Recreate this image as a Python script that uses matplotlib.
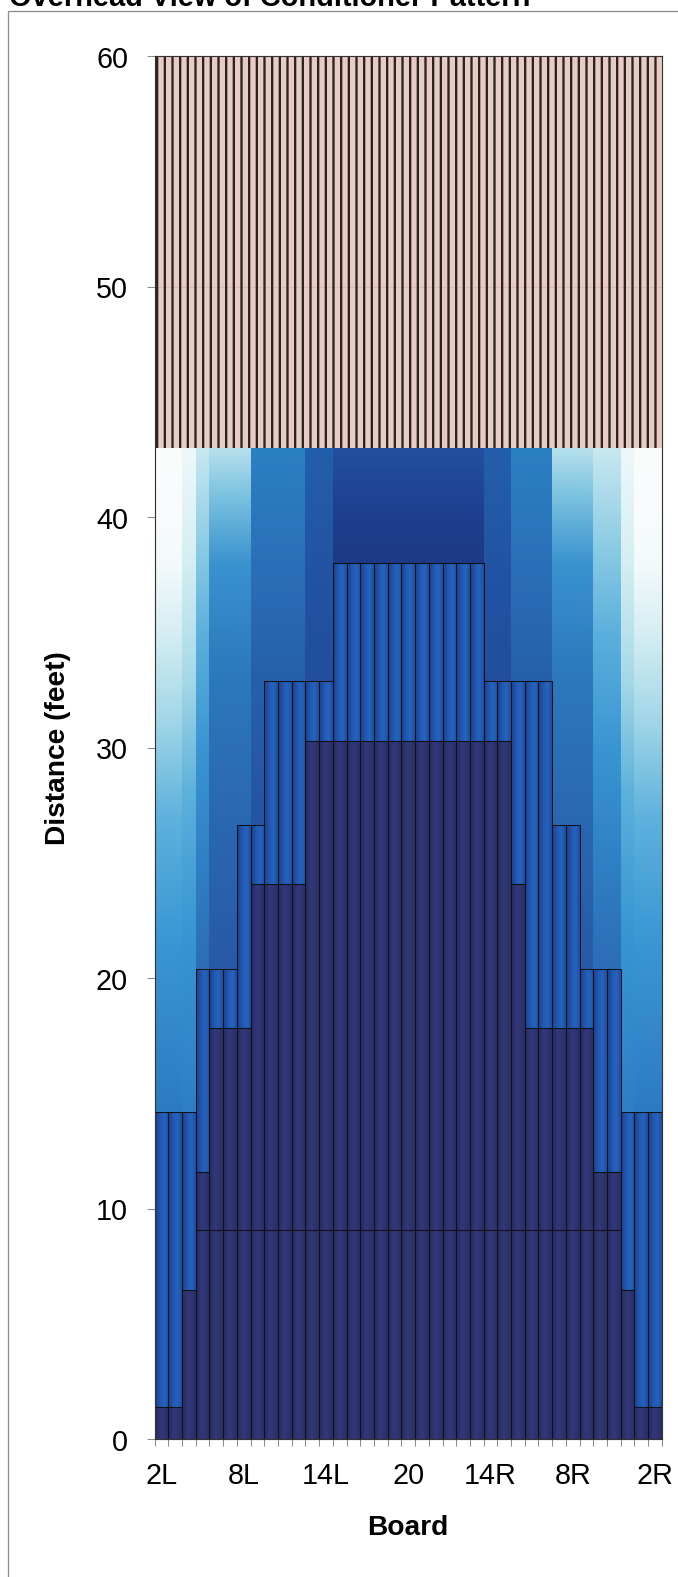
import numpy as np
import matplotlib
matplotlib.use("Agg")
import matplotlib.pyplot as plt
from matplotlib.colors import to_rgb
from matplotlib.patches import Rectangle

# ---------------- data ----------------
boards = ["2L", "3L", "4L", "5L", "6L", "7L", "8L", "9L", "10L", "11L", "12L", "13L",
          "14L", "15L", "16L", "17L", "18L", "19L", "20", "19R", "18R", "17R", "16R",
          "15R", "14R", "13R", "12R", "11R", "10R", "9R", "8R", "7R", "6R", "5R", "4R",
          "3R", "2R"]
tick_boards = ["2L", "8L", "14L", "20", "14R", "8R", "2R"]

# first (base) layer of conditioner, feet
base_layer = [1.4, 1.4, 6.5, 9.1, 9.1, 9.1, 9.1, 9.1, 9.1, 9.1, 9.1, 9.1, 9.1,
              9.1, 9.1, 9.1, 9.1, 9.1, 9.1, 9.1, 9.1, 9.1, 9.1, 9.1, 9.1, 9.1,
              9.1, 9.1, 9.1, 9.1, 9.1, 9.1, 9.1, 9.1, 6.5, 1.4, 1.4]
# top of the heavy (dark) conditioner zone, feet
heavy_top = [1.4, 1.4, 6.5, 11.6, 17.85, 17.85, 17.85, 24.1, 24.1, 24.1, 24.1,
             30.3, 30.3, 30.3, 30.3, 30.3, 30.3, 30.3, 30.3, 30.3, 30.3, 30.3,
             30.3, 30.3, 30.3, 30.3, 24.1, 17.85, 17.85, 17.85, 17.85, 17.85,
             11.6, 11.6, 6.5, 1.4, 1.4]
# top of the forward-pass zone (outlined blue), feet
forward_top = [14.2, 14.2, 14.2, 20.4, 20.4, 20.4, 26.65, 26.65, 32.9, 32.9, 32.9,
               32.9, 32.9, 38.0, 38.0, 38.0, 38.0, 38.0, 38.0, 38.0, 38.0, 38.0,
               38.0, 38.0, 32.9, 32.9, 32.9, 32.9, 32.9, 26.65, 26.65, 20.4, 20.4,
               20.4, 14.2, 14.2, 14.2]
# end of the buffed (tapered) zone, feet
buff_top = [43.0] * 37
lane_end = [60.0] * 37
# buff shading level per board (0 = lightest, 6 = heaviest)
buff_level = [0, 0, 1, 2, 3, 3, 3, 4, 4, 4, 4, 5, 5, 6, 6, 6, 6, 6, 6, 6, 6, 6,
              6, 6, 5, 5, 4, 4, 4, 3, 3, 3, 2, 2, 1, 0, 0]

# ---------------- styles ----------------
DPI = 92
plt.rcParams["font.family"] = ["Liberation Sans", "DejaVu Sans"]
plt.rcParams["hatch.linewidth"] = 1.8

dark_stops = [(0.0, "#252a60"), (0.45, "#333979"), (1.0, "#292e67")]
blue_stops = [(0.0, "#1b3f8c"), (0.35, "#2157b0"), (0.7, "#2563bf"), (1.0, "#1e4c9e")]
buff_stops = {
    0: [(14, "#2c7ac2"), (22, "#3d98d4"), (27, "#5fb2dd"), (31, "#9fd5e7"),
        (35, "#d5eef3"), (38, "#f4fafb"), (43, "#fbfdfd")],
    1: [(14, "#2d7ec4"), (22, "#3896d3"), (28, "#5cb0dc"), (33, "#a5d9e8"),
        (38, "#d4eef3"), (43, "#eef8fa")],
    2: [(20, "#2b6cb6"), (25, "#2f80c4"), (30, "#3a95d2"), (35, "#5cb0dc"),
        (39, "#8fcde5"), (43, "#c8e8f0")],
    3: [(20, "#2858a6"), (27, "#2a68b2"), (33, "#2c78bd"), (38, "#3a92cf"),
        (41, "#7cc3e0"), (43, "#b5e0ec")],
    4: [(24, "#244f9e"), (33, "#2660ab"), (38, "#2a70b8"), (43, "#2b80c2")],
    5: [(30, "#214a99"), (38, "#2254a3"), (43, "#245fab")],
    6: [(38, "#1c3985"), (40, "#1d3f8e"), (43, "#2350a0")],
}
pink_face = (229 / 255, 194 / 255, 184 / 255, 0.85)
stripe_col = "#2b2220"
edge_col = "#111111"


def interp_colors(stops, t):
    pos = np.array([s[0] for s in stops], float)
    rgb = np.array([to_rgb(s[1]) for s in stops])
    return np.stack([np.interp(t, pos, rgb[:, i]) for i in range(3)], axis=-1)


def horizontal_fill(ax, patches, stops, z):
    t = np.linspace(0, 1, 64)
    img = interp_colors(stops, t)[None, :, :]
    for p in patches:
        x0, y0, w, h = p.get_x(), p.get_y(), p.get_width(), p.get_height()
        if h <= 0:
            continue
        im = ax.imshow(img, extent=(x0, x0 + w, y0, y0 + h), origin="lower",
                       aspect="auto", interpolation="bilinear", zorder=z)
        im.set_clip_path(p)
        p.set_facecolor("none")


def vertical_fill(ax, patches, levels, z):
    for p, lev in zip(patches, levels):
        x0, y0, w, h = p.get_x(), p.get_y(), p.get_width(), p.get_height()
        if h <= 0:
            continue
        ys = np.linspace(y0, y0 + h, 240)
        img = interp_colors(buff_stops[lev], ys)[:, None, :]
        im = ax.imshow(img, extent=(x0, x0 + w, y0, y0 + h), origin="lower",
                       aspect="auto", interpolation="bilinear", zorder=z)
        im.set_clip_path(p)
        p.set_facecolor("none")


# ---------------- figure ----------------
fig = plt.figure(figsize=(678.4 / DPI, 1577.4 / DPI), dpi=DPI)
fig.patch.set_facecolor("white")

# outer chart frame and (cut-off at the top, as in the scan) title
fig.patches.append(Rectangle((8 / 678, -0.1), 2.0, 1.1 - 11 / 1577, transform=fig.transFigure,
                             fill=False, edgecolor="#8c8c8c", linewidth=1.0))
fig.text(9 / 678, 1 - 5.5 / 1577, "Overhead View of Conditioner Pattern",
         fontsize=22.7, fontweight="bold", ha="left", va="baseline", color="black")

ax = fig.add_axes([154.5 / 678, 1 - 1439.5 / 1577, 507 / 678, 1382.8 / 1577])
ax.set_facecolor("white")

x = np.arange(1, len(boards) + 1)
base = np.array(base_layer)
heavy = np.array(heavy_top)
fwd = np.array(forward_top)
buff = np.array(buff_top)
end = np.array(lane_end)

# base layer (dark)
b1 = ax.bar(x, base, width=1.0, bottom=0, edgecolor=edge_col, linewidth=0.8, zorder=3.5)
horizontal_fill(ax, b1.patches, dark_stops, 3)

# heavy layer above base (dark), only where present
mid_h = heavy - base
sel = mid_h > 0
b2 = ax.bar(x[sel], mid_h[sel], width=1.0, bottom=base[sel], edgecolor=edge_col,
            linewidth=0.8, zorder=3.5)
horizontal_fill(ax, b2.patches, dark_stops, 3)

# forward-pass zone (outlined blue)
b3 = ax.bar(x, fwd - heavy, width=1.0, bottom=heavy, edgecolor=edge_col,
            linewidth=0.8, zorder=3.5)
horizontal_fill(ax, b3.patches, blue_stops, 3)

# buffed taper zone (gradients, no outline)
b4 = ax.bar(x, buff - fwd, width=1.0, bottom=fwd, linewidth=0, zorder=2.5)
vertical_fill(ax, b4.patches, buff_level, 2)

# dry back end (pink, striped)
ax.bar(x, end - buff, width=1.0, bottom=buff, color=pink_face, edgecolor=stripe_col,
       linewidth=0, hatch="||", zorder=2)

# ---------------- axes ----------------
ax.set_xlim(0.5, len(boards) + 0.5)
ax.set_ylim(0, 60)
ax.set_yticks([0, 10, 20, 30, 40, 50, 60])
ax.set_xticks([x[boards.index(b)] for b in tick_boards])
ax.set_xticklabels(tick_boards)
ax.set_xticks(np.arange(0.5, len(boards) + 1.0, 1.0), minor=True)
ax.tick_params(axis="x", which="major", length=0, pad=17, labelsize=22.5)
ax.tick_params(axis="x", which="minor", length=5.5, width=0.8, color="#8a8a8a", direction="out")
ax.tick_params(axis="y", which="major", length=6.3, width=0.8, color="#8a8a8a", pad=14.5,
               labelsize=22.5, direction="out")
ax.set_axisbelow(True)
ax.yaxis.grid(True, color="#8a8a8a", linewidth=0.7)
for s in ax.spines.values():
    s.set_color("#333333")
    s.set_linewidth(0.9)
    s.set_zorder(6)

ax.set_ylabel("Distance (feet)", fontsize=22, fontweight="bold")
ax.yaxis.set_label_coords(-0.1655, 0.5)
ax.set_xlabel("Board", fontsize=22, fontweight="bold")
ax.xaxis.set_label_coords(0.5, -0.0545)

fig.savefig("out.png", dpi=DPI, facecolor="white")
